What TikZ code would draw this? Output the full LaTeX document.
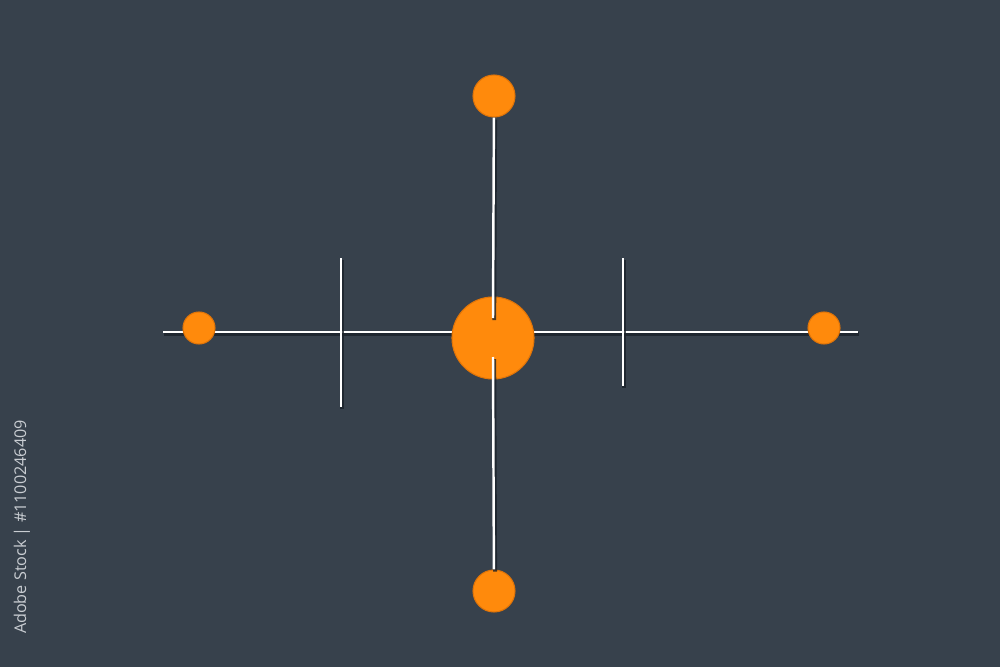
\documentclass[tikz,border=0pt]{standalone}
\usepackage{fontspec}
\newfontfamily\stockfont{Open Sans}
\usepackage{xcolor}
\usepackage{tikz}
\usetikzlibrary{positioning,calc}

\definecolor{slate}{HTML}{37414C}
\definecolor{dotorange}{HTML}{FF8A0C}
\definecolor{rimorange}{HTML}{E07408}
\definecolor{shade}{HTML}{1A2129}
\definecolor{marktext}{HTML}{C9CDD2}

\tikzset{
    rod/.style={draw=white, line width=0.7pt,
        preaction={draw=shade, line width=1.1pt, opacity=0.8,
            transform canvas={xshift=0.35pt, yshift=-0.6pt}}},
    dot/.style={circle, fill=dotorange, draw=rimorange, line width=0.3pt, inner sep=0pt}
}

\begin{document}
\begin{tikzpicture}[x=0.01cm, y=-0.01cm]
    % Background
    \fill [slate] (0,0) rectangle (1000,667);
    \useasboundingbox (0,0) rectangle (1000,667);

    % End points of the rods
    \coordinate (hleft) at (163,332);
    \coordinate (hright) at (858,332);
    \coordinate (hubtop) at (493,318);
    \coordinate (hubbot) at (493,357);
    \coordinate (ltickt) at (341,258);
    \coordinate (ltickb) at (341,407);
    \coordinate (rtickt) at (623,258);
    \coordinate (rtickb) at (623,386);

    % Horizontal rod and ticks
    \draw [rod] (hleft) -- (hright);
    \draw [rod] (ltickt) -- (ltickb);
    \draw [rod] (rtickt) -- (rtickb);

    % Dots
    \node [dot, minimum size=0.82cm] (hub) at (493,338) {};
    \node [dot, minimum size=0.32cm] (west) at (199,328) {};
    \node [dot, minimum size=0.32cm] (east) at (824,328) {};
    \node [dot, minimum size=0.42cm] (north) at (494,96) {};
    \node [dot, minimum size=0.42cm] (south) at (494,591) {};

    % Vertical rod
    \draw [rod] (north) -- (hubtop);
    \draw [rod] (hubbot) -- (south);

    % Label
    \node [rotate=90, text=marktext, font=\stockfont\fontsize{4.6}{5}\selectfont,
        inner sep=0pt] (stock) at (22,527) {Adobe Stock | \#1100246409};
\end{tikzpicture}
\end{document}
